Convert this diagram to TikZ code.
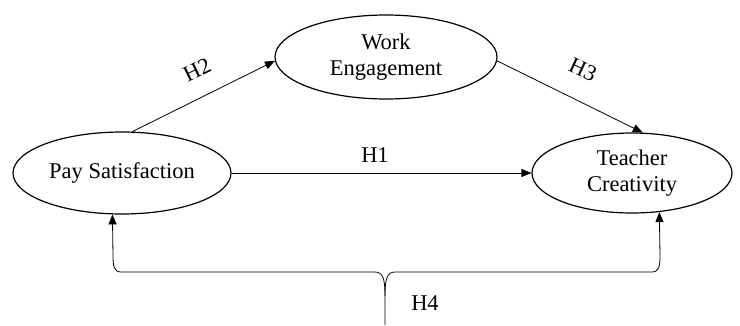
\documentclass[tikz,border=0pt]{standalone}
\usepackage{fontspec}
\setmainfont{Liberation Serif}
\usetikzlibrary{shapes.geometric,arrows.meta}
\begin{document}
\begin{tikzpicture}[x=1pt,y=-1pt,
  every node/.style={font=\fontsize{22.5}{26}\selectfont},
  var/.style={draw,ellipse,line width=1.2pt,inner sep=0pt,align=center},
  conn/.style={line width=0.8pt,-{Triangle[length=10pt,width=8pt]}},
  lbl/.style={inner sep=1pt}]
\useasboundingbox (0,0) rectangle (740,325);
\node[var,minimum width=218pt,minimum height=82pt] (PS) at (122,173) {Pay Satisfaction};
\node[var,minimum width=200pt,minimum height=80pt] (TC) at (632,173) {Teacher\\Creativity};
\node[var,minimum width=222pt,minimum height=84pt] (WE) at (386,57) {Work\\Engagement};
\draw[conn] (PS.east) -- (TC.west);
\draw[conn] (PS.76) -- (WE.182);
\draw[conn] (WE.-2) -- (TC.75);
\node[lbl] (h1) at (375,155) {H1};
\node[lbl,rotate=26] (h2) at (197,70) {H2};
\node[lbl,rotate=-25] (h3) at (583,70) {H3};
\node[lbl] (h4) at (425,303) {H4};
\coordinate (stem) at (385,325);
\draw[conn] (stem) -- (385,296) .. controls (385,279) and (383,272) .. (375,272)
  -- (121,272) .. controls (114,272) and (113,266) .. (113,256) -- (PS.257);
\draw[conn] (385,296) .. controls (385,279) and (387,272) .. (395,272)
  -- (652,272) .. controls (659,272) and (660,266) .. (660,256) -- (TC.305);
\end{tikzpicture}
\end{document}
